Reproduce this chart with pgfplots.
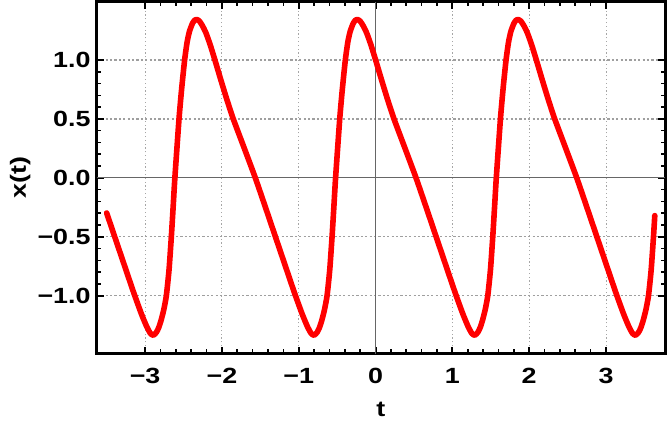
\documentclass[border=0pt]{standalone}
\usepackage{fontspec}
\setmainfont{Liberation Sans}[FakeStretch=1.22]
\usepackage{pgfplots}
\pgfplotsset{compat=1.18}
\begin{document}
\begin{tikzpicture}
\begin{axis}[
  scale only axis, width=568pt, height=352pt,
  xmin=-3.629, xmax=3.768, ymin=-1.493, ymax=1.494,
  axis line style={line width=3pt},
  tick align=inside,
  xtick={-3,-2,-1,0,1,2,3}, minor x tick num=4,
  ytick={-1,-0.5,0,0.5,1}, minor y tick num=4,
  xticklabels={−3,−2,−1,0,1,2,3},
  yticklabels={−1.0,−0.5,0.0,0.5,1.0},
  major tick length=7pt, minor tick length=4.5pt,
  every major tick/.style={line width=2pt, black},
  every minor tick/.style={line width=1.6pt, black},
  xmajorgrids, ymajorgrids,
  x grid style={gray!70, line width=0.9pt, dash pattern=on 1.2pt off 2.6pt},
  y grid style={gray!75, line width=1.3pt, dash pattern=on 2.2pt off 2.2pt},
  tick label style={font=\fontsize{22}{26}\selectfont\bfseries},
  yticklabel style={anchor=east, inner sep=0pt, xshift=-6pt},
  xticklabel style={anchor=north, inner sep=0pt, yshift=-14pt},
  every axis y label/.style={at={(rel axis cs:0,0.5)}, xshift=-76.5pt, rotate=90, anchor=center, font=\fontsize{22}{26}\selectfont\bfseries},
  every axis x label/.style={at={(rel axis cs:0.5,0)}, yshift=-56pt, anchor=center, font=\fontsize{22}{26}\selectfont\bfseries},
  xlabel={t}, ylabel={x(t)},
]
\draw[black!60, line width=1.1pt] (axis cs:0,-1.493) -- (axis cs:0,1.494);
\draw[black!60, line width=1.1pt] (axis cs:-3.629,0) -- (axis cs:3.768,0);
\addplot[red, line width=5.6pt, smooth, tension=0.35, line join=round, line cap=round] coordinates {
(-3.500,-0.298) (-3.395,-0.50) (-3.270,-0.74) (-3.150,-0.97) (-3.050,-1.15) (-2.980,-1.26) (-2.930,-1.32)
(-2.892,-1.335) (-2.852,-1.31) (-2.822,-1.27) (-2.792,-1.21) (-2.757,-1.12) (-2.723,-1.00) (-2.688,-0.78)
(-2.658,-0.50) (-2.632,-0.22) (-2.612,0.00) (-2.558,0.50) (-2.523,0.76) (-2.485,1.00) (-2.453,1.15)
(-2.423,1.24) (-2.383,1.31) (-2.353,1.338) (-2.328,1.343)
(-2.293,1.33) (-2.253,1.29) (-2.208,1.23) (-2.153,1.13) (-2.091,1.00) (-2.018,0.84) (-1.938,0.67)
(-1.852,0.50) (-1.708,0.25) (-1.565,0.00) (-1.433,-0.25) (-1.303,-0.50) (-1.178,-0.74) (-1.058,-0.97)
(-0.958,-1.15) (-0.888,-1.26) (-0.838,-1.32)
(-0.800,-1.335) (-0.760,-1.31) (-0.730,-1.27) (-0.700,-1.21) (-0.665,-1.12) (-0.631,-1.00) (-0.596,-0.78)
(-0.566,-0.50) (-0.540,-0.22) (-0.520,0.00) (-0.466,0.50) (-0.431,0.76) (-0.393,1.00) (-0.361,1.15)
(-0.331,1.24) (-0.291,1.31) (-0.261,1.338) (-0.236,1.343)
(-0.201,1.33) (-0.161,1.29) (-0.116,1.23) (-0.061,1.13) (0.001,1.00) (0.074,0.84) (0.154,0.67)
(0.240,0.50) (0.384,0.25) (0.527,0.00) (0.659,-0.25) (0.789,-0.50) (0.914,-0.74) (1.034,-0.97)
(1.134,-1.15) (1.204,-1.26) (1.254,-1.32)
(1.292,-1.335) (1.332,-1.31) (1.362,-1.27) (1.392,-1.21) (1.427,-1.12) (1.461,-1.00) (1.496,-0.78)
(1.526,-0.50) (1.552,-0.22) (1.572,0.00) (1.626,0.50) (1.661,0.76) (1.699,1.00) (1.731,1.15)
(1.761,1.24) (1.801,1.31) (1.831,1.338) (1.856,1.343)
(1.891,1.33) (1.931,1.29) (1.976,1.23) (2.031,1.13) (2.093,1.00) (2.166,0.84) (2.246,0.67)
(2.332,0.50) (2.476,0.25) (2.619,0.00) (2.751,-0.25) (2.881,-0.50) (3.006,-0.74) (3.126,-0.97)
(3.226,-1.15) (3.296,-1.26) (3.346,-1.32)
(3.384,-1.335) (3.424,-1.31) (3.454,-1.27) (3.484,-1.21) (3.519,-1.12) (3.553,-1.00) (3.588,-0.78)
(3.618,-0.50) (3.635,-0.32)
};
\end{axis}
\pgfresetboundingbox
\path[use as bounding box] ([xshift=-96.7pt,yshift=-72pt]current axis.south west) rectangle ([xshift=2pt,yshift=1.7pt]current axis.north east);
\end{tikzpicture}
\end{document}
